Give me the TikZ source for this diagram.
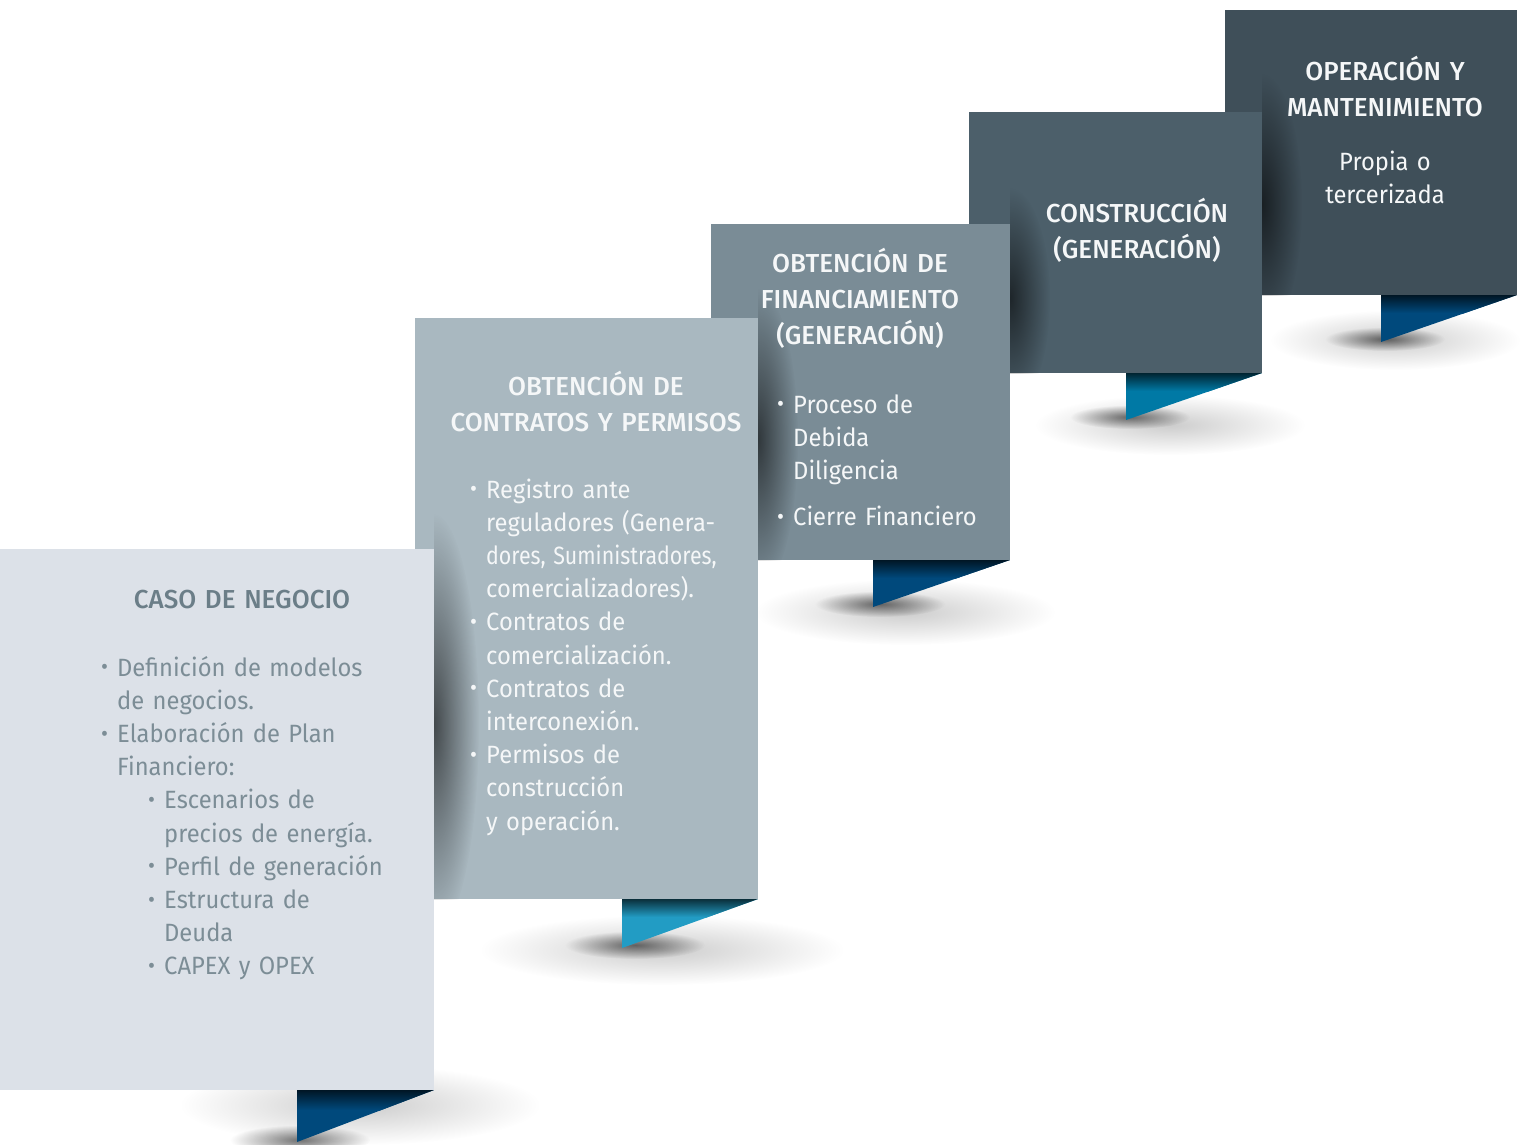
\documentclass[tikz,border=0pt]{standalone}
\usepackage{fontspec}
\setmainfont{Fira Sans}[FakeStretch=0.95]
\newfontfamily\headfont{Fira Sans}[UprightFont=* Medium]
\usetikzlibrary{fadings, calc}
\definecolor{casofill}{HTML}{DCE1E8}
\definecolor{contfill}{HTML}{A9B8C0}
\definecolor{finfill}{HTML}{7A8C96}
\definecolor{consfill}{HTML}{4C5F6A}
\definecolor{opfill}{HTML}{3F4F59}
\definecolor{casohead}{HTML}{6B7E88}
\definecolor{casotext}{HTML}{7C8D96}
\definecolor{paneltext}{HTML}{F5F7F8}
\definecolor{tabdark}{HTML}{00497C}
\definecolor{tablight}{HTML}{229CC4}
\definecolor{tabmid}{HTML}{0079A5}
\tikzfading[name=softspot, inner color=transparent!0, outer color=transparent!100]
\newcommand{\lbul}{\makebox[16pt][l]{\raisebox{0.1ex}{\scalebox{0.9}{\textbullet}}}}
\newcommand{\lind}{\hspace*{16pt}}
\tikzset{
  panel/.style    = {anchor=north west, inner sep=0pt, outer sep=0pt},
  headtxt/.style  = {font=\headfont\fontsize{26}{36}\selectfont, text width=340pt,
                     align=center, anchor=base, inner sep=0pt},
  listtxt/.style  = {font=\fontsize{25}{33.2}\selectfont, text width=340pt,
                     align=left, anchor=base west, inner sep=0pt},
  midtxt/.style   = {listtxt, align=center, anchor=base},
  shadowspot/.style = {black, path fading=softspot},
}

\begin{document}
\begin{tikzpicture}[x=1pt, y=-1pt]
  \useasboundingbox (0,0) rectangle (1523,1144);
  % soft shadows under the tabs
  \fill[shadowspot, opacity=0.2]  (360,1105) ellipse (180 and 40);
  \fill[shadowspot, opacity=0.55] (300,1140) ellipse (70 and 15);
  \fill[shadowspot, opacity=0.2]  (662,950) ellipse (182 and 35);
  \fill[shadowspot, opacity=0.55] (635,945) ellipse (70 and 14);
  \fill[shadowspot, opacity=0.2]  (905,612) ellipse (150 and 33);
  \fill[shadowspot, opacity=0.55] (880,604) ellipse (65 and 13);
  \fill[shadowspot, opacity=0.2]  (1170,425) ellipse (135 and 30);
  \fill[shadowspot, opacity=0.55] (1130,417) ellipse (60 and 12);
  \fill[shadowspot, opacity=0.2]  (1395,340) ellipse (125 and 30);
  \fill[shadowspot, opacity=0.55] (1385,339) ellipse (60 and 12);

  % step 5
  \node[panel, fill=opfill, minimum width=292pt, minimum height=285pt] (operac) at (1225,10) {};
  \begin{scope}
    \clip (operac.south east) -- ++(-136,0) -- ++(0,47) -- cycle;
    \fill[tabdark] (operac.south east) rectangle ++(-136,47);
    \shade[top color=tabdark!30!black, bottom color=tabdark] (operac.south east) rectangle ++(-136,18);
  \end{scope}
  \begin{scope}
    \clip (1262,10) rectangle (operac.south east);
    \fill[shadowspot, opacity=0.6] (1262,204) ellipse (40 and 130);
  \end{scope}

  % step 4
  \node[panel, fill=consfill, minimum width=293pt, minimum height=261pt] (constr) at (969,112) {};
  \begin{scope}
    \clip (constr.south east) -- ++(-136,0) -- ++(0,47) -- cycle;
    \fill[tabmid] (constr.south east) rectangle ++(-136,47);
    \shade[top color=tabmid!30!black, bottom color=tabmid] (constr.south east) rectangle ++(-136,18);
  \end{scope}
  \begin{scope}
    \clip (1010,112) rectangle (constr.south east);
    \fill[shadowspot, opacity=0.6] (1010,298) ellipse (40 and 110);
  \end{scope}

  % step 3
  \node[panel, fill=finfill, minimum width=299pt, minimum height=336pt] (financ) at (711,224) {};
  \begin{scope}
    \clip (financ.south east) -- ++(-137,0) -- ++(0,47) -- cycle;
    \fill[tabdark] (financ.south east) rectangle ++(-137,47);
    \shade[top color=tabdark!30!black, bottom color=tabdark] (financ.south east) rectangle ++(-137,18);
  \end{scope}
  \begin{scope}
    \clip (758,224) rectangle (financ.south east);
    \fill[shadowspot, opacity=0.6] (758,439) ellipse (40 and 150);
  \end{scope}

  % step 2
  \node[panel, fill=contfill, minimum width=343pt, minimum height=581pt] (contratos) at (415,318) {};
  \begin{scope}
    \clip (contratos.south east) -- ++(-136,0) -- ++(0,49) -- cycle;
    \fill[tablight] (contratos.south east) rectangle ++(-136,49);
    \shade[top color=tablight!30!black, bottom color=tablight] (contratos.south east) rectangle ++(-136,18);
  \end{scope}
  \begin{scope}
    \clip (434,318) rectangle (contratos.south east);
    \fill[shadowspot, opacity=0.6] (434,724) ellipse (45 and 210);
  \end{scope}

  % step 1
  \node[panel, fill=casofill, minimum width=434pt, minimum height=541pt] (caso) at (0,549) {};
  \begin{scope}
    \clip (caso.south east) -- ++(-137,0) -- ++(0,52) -- cycle;
    \fill[tabdark] (caso.south east) rectangle ++(-137,52);
    \shade[top color=tabdark!30!black, bottom color=tabdark] (caso.south east) rectangle ++(-137,20);
  \end{scope}

  % texts
  \node[headtxt, text=casohead] (casotitle) at (242,608) {CASO DE NEGOCIO};
  \node[listtxt, text=casotext] (casolist) at (101,676) {%
    \lbul Definición de modelos\\
    \lind de negocios.\\
    \lbul Elaboración de Plan\\
    \lind Financiero:\\
    \hspace*{47pt}\lbul Escenarios de\\
    \hspace*{63pt}precios de energía.\\
    \hspace*{47pt}\lbul Perfil de generación\\
    \hspace*{47pt}\lbul Estructura de\\
    \hspace*{63pt}Deuda\\
    \hspace*{47pt}\lbul CAPEX y OPEX};

  \node[headtxt, text=paneltext] (conttitle) at (596,395) {OBTENCIÓN DE\\CONTRATOS Y PERMISOS};
  \node[listtxt, text=paneltext] (contlist) at (470,498) {%
    \lbul Registro ante\\
    \lind reguladores (Genera-\\
    \lind \scalebox{0.9}[1]{dores, Suministradores,}\\
    \lind comercializadores).\\
    \lbul Contratos de\\
    \lind comercialización.\\
    \lbul Contratos de\\
    \lind interconexión.\\
    \lbul Permisos de\\
    \lind construcción\\
    \lind y operación.};

  \node[headtxt, text=paneltext] (fintitle) at (860,272) {OBTENCIÓN DE\\FINANCIAMIENTO\\(GENERACIÓN)};
  \node[listtxt, text=paneltext] (finlist) at (777,413) {%
    \lbul Proceso de\\
    \lind Debida\\
    \lind Diligencia\\[13pt]
    \lbul Cierre Financiero};

  \node[headtxt, text=paneltext] (constitle) at (1137,222) {CONSTRUCCIÓN\\(GENERACIÓN)};

  \node[headtxt, text=paneltext] (optitle) at (1385,80) {OPERACIÓN Y\\MANTENIMIENTO};
  \node[midtxt, text=paneltext] (optext) at (1385,170) {Propia o\\tercerizada};
\end{tikzpicture}
\end{document}
